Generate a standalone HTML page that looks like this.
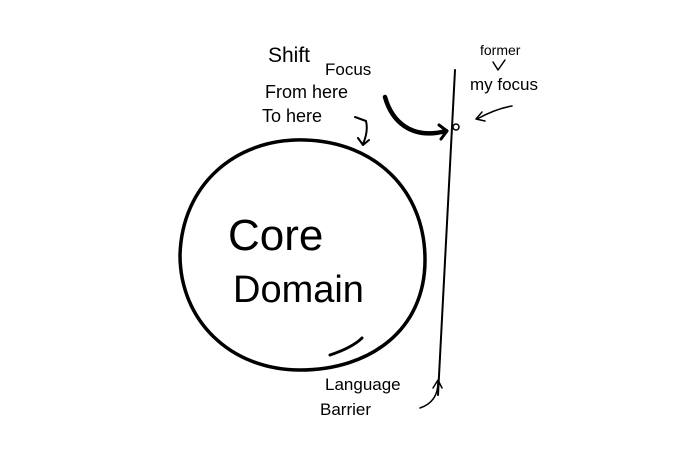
<!DOCTYPE html>
<html><head><meta charset="utf-8"><style>
html,body{margin:0;padding:0;background:#fff;}
svg{display:block}
text{font-family:"Liberation Sans",sans-serif;fill:#000}
</style></head><body>
<svg width="700" height="467" viewBox="0 0 700 467" xmlns="http://www.w3.org/2000/svg">
<g fill="none" stroke="#000" stroke-linecap="round" stroke-linejoin="round">
<path d="M305,140 C235,138 182,185 180,255 C180,320 230,370 300,370 C370,370 425,330 425,260 C425,190 375,142 305,140" stroke-width="3.5"/>
<path d="M330,355 C345,350 355,345 362,338" stroke-width="3"/>
<path d="M455,70 L438,395" stroke-width="2"/>
<circle cx="456" cy="127" r="3" stroke-width="1.5"/>
<path d="M385,97 C392,122 412,140 446,131" stroke-width="4.5"/>
<path d="M439,125 L447,131 L441,139" stroke-width="3"/>
<path d="M355,117 L366,121 C368,129 366,137 363,144 M358,138 L363,145 L369,140" stroke-width="2"/>
<path d="M512,106 C500,108 488,113 477,119 M482,112 L476,119 L485,121" stroke-width="1.5"/>
<path d="M420,408 C432,404 438,395 438,382 M433,388 L438,380 L442,388" stroke-width="1.5"/>
<path d="M493,62 L498,70 L505,60" stroke-width="1.5"/>
</g>
<text x="268" y="62" font-size="21">Shift</text>
<text x="325" y="75" font-size="17">Focus</text>
<text x="265" y="98" font-size="18">From here</text>
<text x="262" y="122" font-size="18">To here</text>
<text x="480" y="55" font-size="14">former</text>
<text x="470" y="90" font-size="17">my focus</text>
<text x="228" y="250" font-size="44">Core</text>
<text x="233" y="302" font-size="38">Domain</text>
<text x="325" y="390" font-size="17">Language</text>
<text x="320" y="415" font-size="17">Barrier</text>
</svg>
</body></html>
